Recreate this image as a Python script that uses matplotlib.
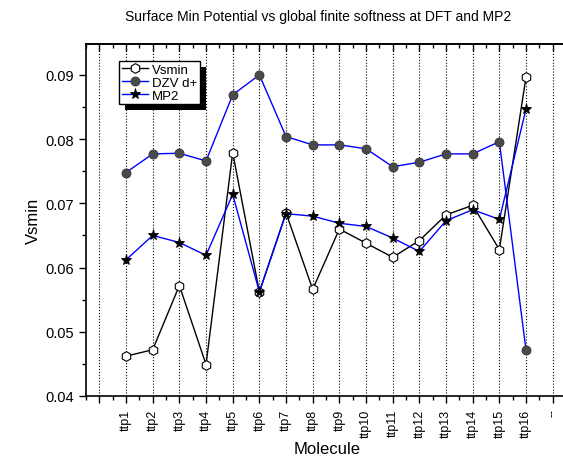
import matplotlib
matplotlib.use("Agg")
import matplotlib.pyplot as plt
from matplotlib.patches import Rectangle
from matplotlib.transforms import IdentityTransform

plt.rcParams['font.family'] = ['Liberation Sans', 'DejaVu Sans']

# data
molecules = ["ttp%d" % i for i in range(1, 17)]
vsmin = [0.0462, 0.0472, 0.0572, 0.0449, 0.0779, 0.0562, 0.0685, 0.0566,
         0.0660, 0.0638, 0.0616, 0.0642, 0.0682, 0.0697, 0.0628, 0.0897]
dzv = [0.0748, 0.0777, 0.0778, 0.0766, 0.0869, 0.0900, 0.0804, 0.0791,
       0.0791, 0.0785, 0.0757, 0.0764, 0.0777, 0.0777, 0.0796, 0.0471]
mp2 = [0.0612, 0.0650, 0.0639, 0.0619, 0.0714, 0.0562, 0.0684, 0.0680,
       0.0669, 0.0664, 0.0646, 0.0625, 0.0673, 0.0690, 0.0675, 0.0847]
tick_labels = [""] + molecules + ["--"]

xs = list(range(1, len(molecules) + 1))

fig = plt.figure(figsize=(5.63, 4.60), dpi=100)
ax = fig.add_axes([0.1528, 0.137, 0.8526, 0.765])

ax.plot(xs, vsmin, color="black", lw=1, marker="h", ms=7, mfc="white",
        mec="black", mew=0.8, label="Vsmin")
ax.plot(xs, dzv, color="blue", lw=1, marker="o", ms=6.5, mfc="#4a4a4a",
        mec="#333333", mew=0.6, label="DZV d+")
ax.plot(xs, mp2, color="blue", lw=1, marker="*", ms=8, mfc="black",
        mec="black", mew=0.6, label="MP2")

ax.set_xlim(-0.5, 17.5)
ax.set_ylim(0.04, 0.0948)
ax.set_xticks(range(len(tick_labels)))
ax.set_xticklabels(tick_labels, rotation=90, fontsize=9)
ax.set_xticks([i + 0.5 for i in range(-1, 18)], minor=True)
ax.set_yticks([0.04, 0.05, 0.06, 0.07, 0.08, 0.09])
ax.set_yticklabels(["0.04", "0.05", "0.06", "0.07", "0.08", "0.09"], fontsize=10.5)
ax.set_yticks([0.045, 0.055, 0.065, 0.075, 0.085], minor=True)
ax.tick_params(axis="both", which="major", direction="out", length=5, width=1)
ax.tick_params(axis="both", which="minor", direction="out", length=3, width=1)
ax.tick_params(axis="x", which="major", pad=4)

top = ax.secondary_xaxis("top")
top.set_xticks(range(len(tick_labels)))
top.set_xticks([i + 0.5 for i in range(-1, 18)], minor=True)
top.set_xticklabels([])
top.tick_params(which="major", direction="in", length=5, width=1)
top.tick_params(which="minor", direction="in", length=3, width=1)
top.spines["top"].set_linewidth(1.2)

for s in ax.spines.values():
    s.set_linewidth(1.2)

ax.grid(axis="x", which="major", color="black", ls=":", lw=0.8)

ax.set_xlabel("Molecule", fontsize=12, va="top")
ax.xaxis.set_label_coords(0.502, -0.128)
ax.set_ylabel("Vsmin", fontsize=12)
ax.yaxis.set_label_coords(-0.094, 0.5)
fig.text(0.565, 0.963, "Surface Min Potential vs global finite softness at DFT and MP2",
         ha="center", va="center", fontsize=10)

leg = ax.legend(loc="upper left", bbox_to_anchor=(0.069, 0.952), borderaxespad=0,
                fancybox=False, framealpha=1, edgecolor="black", fontsize=9.5,
                handlelength=2.0, handletextpad=0.3, labelspacing=0.05,
                borderpad=0.2)
leg.get_frame().set_linewidth(1)

fig.canvas.draw()
bb = leg.get_window_extent()
ax.add_patch(Rectangle((bb.x0 + 6, bb.y0 - 6), bb.width, bb.height,
                       transform=IdentityTransform(), facecolor="black",
                       edgecolor="none", zorder=4.9, clip_on=False))

fig.savefig("out.png", dpi=100)
